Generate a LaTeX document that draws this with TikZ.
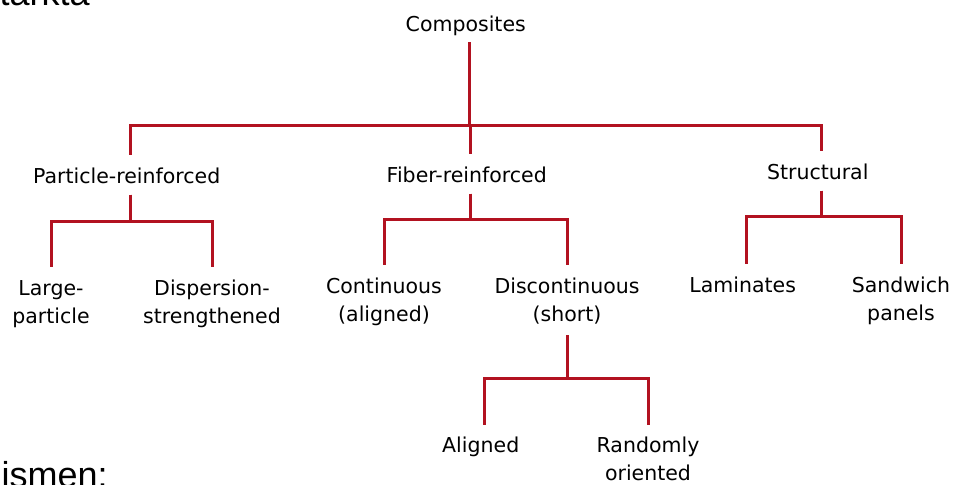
\documentclass[tikz,border=0pt]{standalone}
\usepackage{fontspec}
\setmainfont{DejaVu Sans}
\newfontfamily\slidefont{Liberation Sans}
\usepackage{tikz}
\usetikzlibrary{positioning}
\definecolor{barred}{RGB}{178,18,32}
\newcommand{\lblfont}{\fontsize{10.25pt}{14pt}\selectfont}
\newcommand{\branch}[3]{%
\draw[link] ([yshift=-5pt] #1.south) -- ++(0,-#3) -| ([yshift=6.25pt] #2.north);%
}
\tikzset{
	lbl/.style={font=\lblfont, align=center, inner sep=0pt},
	link/.style={draw=barred, line width=1.5pt},
	slidetext/.style={font=\slidefont\fontsize{18pt}{20pt}\selectfont, inner sep=0pt}
}

\begin{document}
\begin{tikzpicture}[x=0.5pt,y=-0.5pt]
\useasboundingbox (0,0) rectangle (967,485);
\clip (0,0) rectangle (967,485);

% cut-off slide text
\node [slidetext, anchor=base east] (toptext) at (90,6) {starkta};
\node [slidetext, anchor=base east] (bottext) at (108,487) {nismen:};

% Root
\node [lbl,
	text depth=0pt,
	anchor=north
]  (comp) at (469,16) {
Composites
};

% Second level
\node [lbl,
	below = 76pt of comp.north,
	xshift=-169.5pt
]  (part) {
Particle-reinforced
};
\node [lbl,
	below = 75.5pt of comp.north,
	xshift=0.5pt
]  (fiber) {
Fiber-reinforced
};
\node [lbl,
	below = 74pt of comp.north,
	xshift=176pt
]  (struct) {
Structural
};

% Particle-reinforced
\node [lbl,
	below = 56pt of part.north,
	xshift=-39.5pt
]  (large) {
Large-\\particle
};
\node [lbl,
	below = 56pt of part.north,
	xshift=41pt
]  (disp) {
Dispersion-\\strengthened
};

% Fiber-reinforced
\node [lbl,
	below = 55.5pt of fiber.north,
	xshift=-43pt
]  (cont) {
Continuous\\(aligned)
};
\node [lbl,
	below = 55.5pt of fiber.north,
	xshift=48.5pt
]  (discont) {
Discontinuous\\(short)
};
\node [lbl,
	below = 79.5pt of discont.north,
	xshift=-41.5pt
]  (aligned) {
Aligned
};
\node [lbl,
	below = 79.5pt of discont.north,
	xshift=40.5pt
]  (random) {
Randomly\\oriented
};

% Structural
\node [lbl,
	below = 56.5pt of struct.north,
	xshift=-37.5pt
]  (lam) {
Laminates
};
\node [lbl,
	below = 56.5pt of struct.north,
	xshift=40pt
]  (sand) {
Sandwich\\panels
};

% Tree lines
\branch{comp}{part}{41.5pt}
\branch{comp}{fiber}{41.5pt}
\branch{comp}{struct}{41.5pt}

\branch{part}{large}{13.5pt}
\branch{part}{disp}{13.5pt}

\branch{fiber}{cont}{13pt}
\branch{fiber}{discont}{13pt}

\branch{discont}{aligned}{21.5pt}
\branch{discont}{random}{21.5pt}

\branch{struct}{lam}{13pt}
\branch{struct}{sand}{13pt}

\end{tikzpicture}
\end{document}
